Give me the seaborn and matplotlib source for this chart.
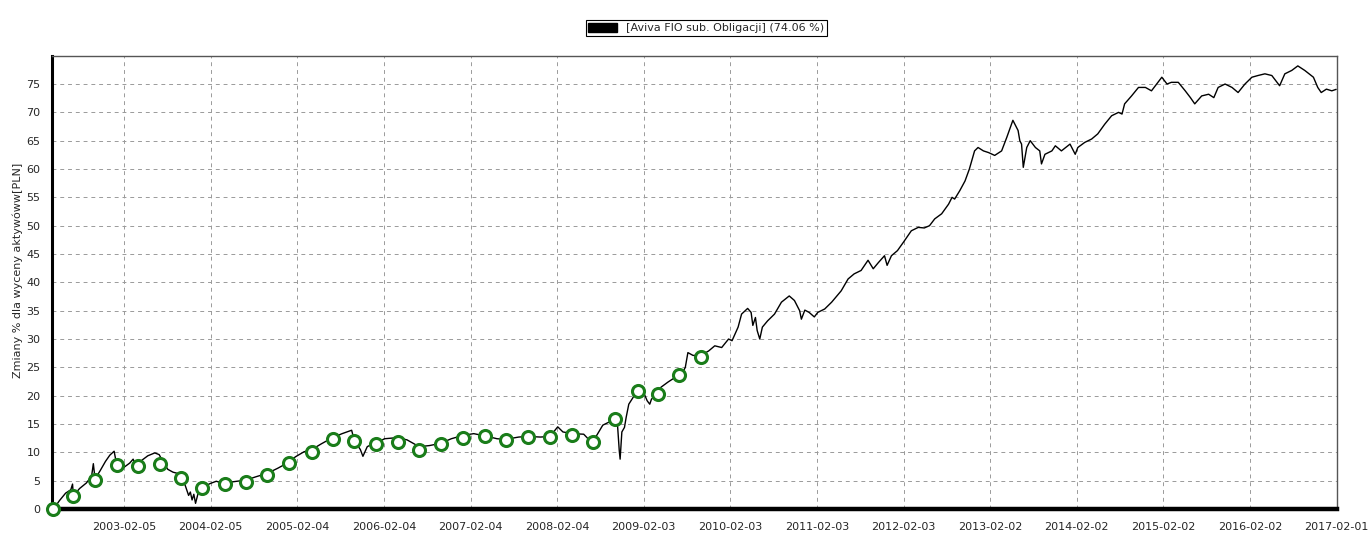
import matplotlib

matplotlib.use("Agg")
import matplotlib.pyplot as plt
import pandas as pd
import seaborn as sns
from matplotlib.patches import Patch
from matplotlib.ticker import AutoMinorLocator, MultipleLocator

# line (decimal year, % change)
line_years = [
    2002.28, 2002.35, 2002.42, 2002.48, 2002.50, 2002.51, 2002.58, 2002.66, 2002.72, 2002.74,
    2002.76, 2002.82, 2002.88, 2002.93, 2002.98, 2003.01, 2003.08, 2003.16, 2003.20, 2003.23,
    2003.26, 2003.30, 2003.37, 2003.45, 2003.50, 2003.55, 2003.60, 2003.66, 2003.71, 2003.76,
    2003.80, 2003.84, 2003.86, 2003.88, 2003.90, 2003.92, 2003.95, 2004.00, 2004.09, 2004.16,
    2004.26, 2004.35, 2004.50, 2004.62, 2004.75, 2004.87, 2005.00, 2005.07, 2005.17, 2005.25,
    2005.37, 2005.50, 2005.61, 2005.72, 2005.75, 2005.82, 2005.85, 2005.90, 2005.95, 2006.00,
    2006.10, 2006.25, 2006.36, 2006.50, 2006.62, 2006.75, 2006.87, 2007.01, 2007.13, 2007.26,
    2007.40, 2007.50, 2007.65, 2007.76, 2007.90, 2008.01, 2008.10, 2008.16, 2008.27, 2008.40,
    2008.45, 2008.50, 2008.55, 2008.62, 2008.70, 2008.75, 2008.79, 2008.81, 2008.82, 2008.84,
    2008.87, 2008.89, 2008.92, 2008.97, 2009.03, 2009.08, 2009.13, 2009.16, 2009.18, 2009.25,
    2009.29, 2009.37, 2009.45, 2009.53, 2009.57, 2009.60, 2009.66, 2009.76, 2009.84, 2009.91,
    2009.99, 2010.07, 2010.11, 2010.18, 2010.22, 2010.29, 2010.33, 2010.35, 2010.38, 2010.40,
    2010.43, 2010.46, 2010.52, 2010.60, 2010.68, 2010.77, 2010.83, 2010.89, 2010.91, 2010.95,
    2011.00, 2011.06, 2011.10, 2011.18, 2011.26, 2011.37, 2011.45, 2011.52, 2011.60, 2011.68,
    2011.74, 2011.80, 2011.87, 2011.90, 2011.95, 2012.02, 2012.09, 2012.18, 2012.26, 2012.33,
    2012.39, 2012.45, 2012.53, 2012.61, 2012.65, 2012.68, 2012.74, 2012.80, 2012.85, 2012.91,
    2012.95, 2013.01, 2013.07, 2013.14, 2013.22, 2013.28, 2013.35, 2013.41, 2013.43, 2013.45,
    2013.47, 2013.51, 2013.55, 2013.61, 2013.66, 2013.68, 2013.72, 2013.80, 2013.84, 2013.91,
    2014.01, 2014.07, 2014.10, 2014.18, 2014.26, 2014.33, 2014.41, 2014.49, 2014.57, 2014.61,
    2014.64, 2014.72, 2014.80, 2014.88, 2014.95, 2015.01, 2015.07, 2015.13, 2015.18, 2015.26,
    2015.34, 2015.40, 2015.45, 2015.53, 2015.61, 2015.67, 2015.72, 2015.80, 2015.88, 2015.95,
    2016.03, 2016.11, 2016.18, 2016.26, 2016.34, 2016.43, 2016.49, 2016.57, 2016.64, 2016.72,
    2016.82, 2016.87, 2016.91, 2016.97, 2017.03, 2017.08,
]
line_values = [
    0.0, 1.5, 2.8, 3.4, 4.4, 2.3, 3.6, 4.6, 5.8, 8.0,
    5.3, 6.8, 8.4, 9.5, 10.2, 7.8, 7.2, 8.1, 8.8, 7.6,
    7.6, 8.6, 9.4, 9.9, 9.6, 8.2, 7.0, 6.5, 6.3, 5.2,
    4.2, 2.4, 3.0, 1.6, 2.6, 1.0, 2.8, 3.8, 4.5, 4.9,
    4.4, 4.8, 5.1, 5.7, 6.3, 7.2, 8.3, 9.2, 10.1, 10.4,
    11.5, 12.6, 13.3, 13.9, 12.1, 10.5, 9.3, 11.0, 11.4, 11.6,
    12.4, 12.6, 12.2, 11.0, 11.2, 11.6, 12.4, 13.0, 13.3, 12.9,
    12.4, 12.3, 12.7, 12.8, 12.7, 12.8, 14.5, 13.6, 13.3, 13.2,
    12.4, 12.1, 13.0, 14.8, 15.4, 16.0, 14.8, 10.3, 8.8, 13.6,
    14.4, 16.2, 18.5, 19.7, 21.9, 20.9, 19.1, 18.5, 19.4, 20.3,
    21.5, 22.4, 23.2, 23.8, 25.0, 27.6, 27.1, 27.2, 27.9, 28.8,
    28.5, 30.0, 29.7, 32.1, 34.4, 35.4, 34.7, 32.4, 33.8, 31.5,
    30.0, 32.1, 33.2, 34.4, 36.5, 37.6, 36.8, 35.0, 33.5, 35.1,
    34.7, 33.9, 34.7, 35.3, 36.5, 38.5, 40.6, 41.5, 42.1, 43.9,
    42.4, 43.5, 44.7, 43.0, 44.7, 45.6, 47.1, 49.1, 49.7, 49.6,
    50.0, 51.2, 52.1, 53.8, 55.0, 54.7, 56.2, 57.9, 60.0, 63.2,
    63.8, 63.2, 62.9, 62.4, 63.2, 65.6, 68.6, 66.8, 65.0, 64.4,
    60.3, 63.8, 65.0, 63.8, 63.2, 60.9, 62.6, 63.2, 64.1, 63.2,
    64.4, 62.6, 63.8, 64.7, 65.3, 66.2, 67.9, 69.4, 70.0, 69.7,
    71.5, 72.9, 74.4, 74.4, 73.8, 75.0, 76.2, 75.0, 75.3, 75.3,
    73.8, 72.6, 71.5, 72.9, 73.2, 72.6, 74.4, 75.0, 74.4, 73.5,
    75.0, 76.2, 76.5, 76.8, 76.5, 74.7, 76.8, 77.4, 78.2, 77.4,
    76.2, 74.4, 73.5, 74.1, 73.8, 74.06,
]

# quarterly green markers
marker_years = [
    2002.28, 2002.51, 2002.76, 2003.01, 2003.26, 2003.51, 2003.75, 2004.00, 2004.26, 2004.50,
    2004.75, 2005.00, 2005.26, 2005.51, 2005.75, 2006.00, 2006.25, 2006.50, 2006.75, 2007.01,
    2007.26, 2007.50, 2007.76, 2008.01, 2008.27, 2008.51, 2008.76, 2009.02, 2009.25, 2009.50,
    2009.75,
]
marker_values = [
    0.0, 2.3, 5.2, 7.7, 7.6, 8.0, 5.4, 3.7, 4.5, 4.8,
    6.0, 8.2, 10.1, 12.3, 12.0, 11.5, 11.8, 10.4, 11.5, 12.6,
    12.8, 12.1, 12.7, 12.7, 13.0, 11.8, 15.9, 20.8, 20.3, 23.6,
    26.8,
]

tick_dates = [
    "2003-02-05", "2004-02-05", "2005-02-04", "2006-02-04", "2007-02-04",
    "2008-02-04", "2009-02-03", "2010-02-03", "2011-02-03", "2012-02-03",
    "2013-02-02", "2014-02-02", "2015-02-02", "2016-02-02", "2017-02-01",
]
series_label = "[Aviva FIO sub. Obligacji] (74.06 %)"
y_label = "Zmiany % dla wyceny aktywóww[PLN]"


def to_dates(years):
    out = []
    for y in years:
        whole = int(y)
        out.append(pd.Timestamp(year=whole, month=1, day=1) + pd.Timedelta(days=(y - whole) * 365.25))
    return out


line_df = pd.DataFrame({"date": to_dates(line_years), "value": line_values})
marker_df = pd.DataFrame({"date": to_dates(marker_years), "value": marker_values})

sns.set_style("white")
plt.rcParams["font.family"] = ["DejaVu Sans"]

fig = plt.figure(figsize=(13.69, 5.34), dpi=100)
ax = fig.add_axes([0.0378, 0.0468, 0.9385, 0.8489])

sns.lineplot(data=line_df, x="date", y="value", ax=ax, color="black", linewidth=1.0, sort=False, zorder=3)
sns.scatterplot(
    data=marker_df, x="date", y="value", ax=ax, s=75, facecolor="white",
    edgecolor="#1a7d1a", linewidth=2.2, zorder=4, clip_on=False,
)

ax.set_xlim(pd.Timestamp("2002-04-06"), pd.Timestamp("2017-02-01"))
ax.set_ylim(0, 80)

ax.set_xticks(pd.to_datetime(tick_dates))
ax.set_xticklabels(tick_dates)
ax.xaxis.set_minor_locator(AutoMinorLocator(4))
ax.yaxis.set_minor_locator(MultipleLocator(1))
ax.set_yticks(range(0, 80, 5))

ax.tick_params(axis="both", which="major", labelsize=8, length=5, width=1, color="#404040", pad=3)
ax.tick_params(axis="both", which="minor", length=3, width=0.8, color="#707070")
ax.tick_params(axis="x", which="major", pad=4)

ax.grid(True, which="major", color="#9a9a9a", linestyle=(0, (4, 4)), linewidth=0.7)

for side in ["top", "right"]:
    ax.spines[side].set_color("#555555")
    ax.spines[side].set_linewidth(1.0)
ax.spines["left"].set_color("black")
ax.spines["left"].set_linewidth(2.2)
ax.spines["bottom"].set_color("black")
ax.spines["bottom"].set_linewidth(3.2)
for sp in ax.spines.values():
    sp.set_visible(True)

ax.set_xlabel("")
ax.set_ylabel(y_label, fontsize=8)
ax.yaxis.set_label_coords(-0.0223, 0.527)

leg = fig.legend(
    handles=[Patch(facecolor="black", edgecolor="black")],
    labels=[series_label],
    loc="center",
    bbox_to_anchor=(0.516, 0.947),
    frameon=True,
    fancybox=False,
    edgecolor="black",
    framealpha=1,
    fontsize=8,
    handlelength=2.6,
    handleheight=0.8,
    borderpad=0.25,
    handletextpad=0.8,
)
leg.get_frame().set_linewidth(0.8)

fig.savefig("out.png", dpi=100)
